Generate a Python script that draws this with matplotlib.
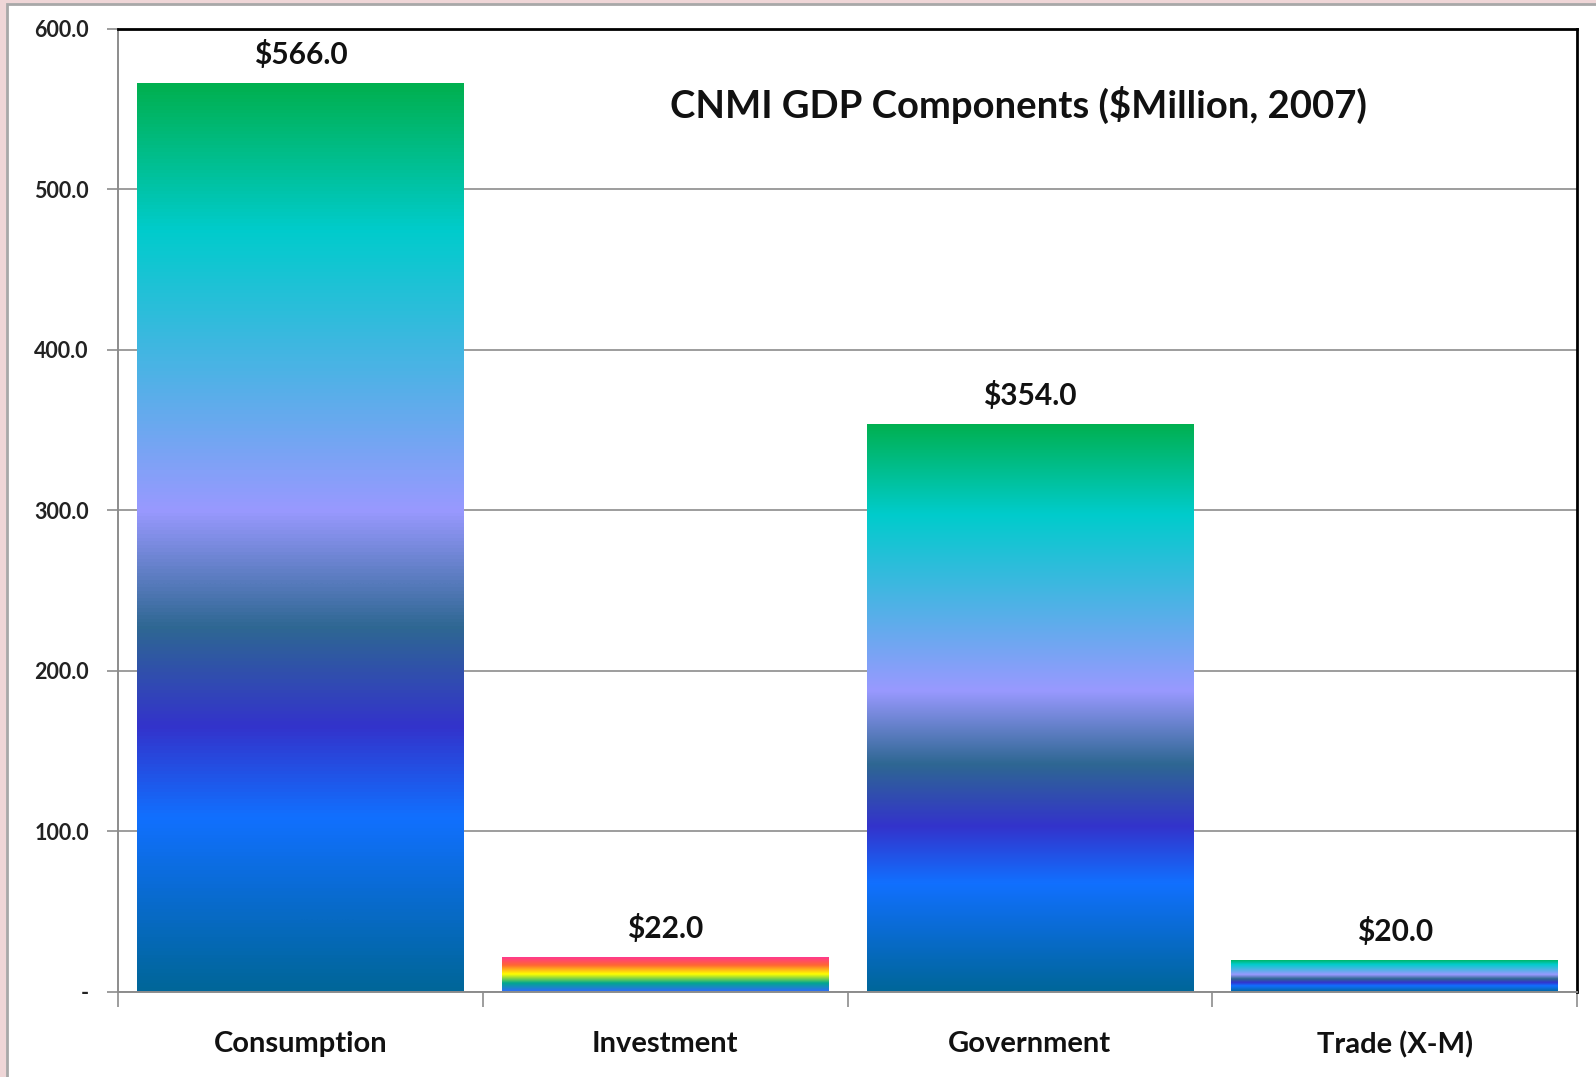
import matplotlib
matplotlib.use('Agg')
import matplotlib.pyplot as plt
import numpy as np
from matplotlib.colors import LinearSegmentedColormap, to_rgb
from matplotlib.patches import Rectangle
from matplotlib.ticker import FuncFormatter, FixedLocator

categories = ['Consumption', 'Investment', 'Government', 'Trade (X-M)']
values = [566.0, 22.0, 354.0, 20.0]
value_labels = ['$566.0', '$22.0', '$354.0', '$20.0']
title = 'CNMI GDP Components ($Million, 2007)'

# gradient stops, bottom (0) to top (1)
peacock = [(0.0, '#006699'), (0.19, '#1170FF'), (0.29, '#3333CC'), (0.40, '#2E6792'),
           (0.53, '#9999FF'), (0.84, '#00CCCC'), (1.0, '#00B050')]
rainbow = [(0.0, '#3366FF'), (0.25, '#01A78F'), (0.5, '#FFFF00'), (0.75, '#FF6633'), (1.0, '#FF3399')]
bar_grads = [peacock, rainbow, peacock, peacock]

plt.rcParams['font.family'] = ['Lato', 'DejaVu Sans']

fig = plt.figure(figsize=(15.96, 10.77), dpi=100)
fig.patch.set_facecolor('#EFD6D7')
W, H = 1596.0, 1077.0
# white panel with gray edge on left/top
fig.patches.append(Rectangle((7 / W, -0.01), 1.02, 1 - 4 / H + 0.01, transform=fig.transFigure,
                             facecolor='white', edgecolor='#A8A8A8', linewidth=2, zorder=-10))

ax = fig.add_axes([118 / W, 1 - 992 / H, (1577 - 118) / W, (992 - 28.7) / H])
ax.set_facecolor('none')

x = np.arange(len(categories))
width = 0.895
bars = ax.bar(x, values, width=width, color='none', edgecolor='none', zorder=2)

for b, grad in zip(bars, bar_grads):
    cmap = LinearSegmentedColormap.from_list('g', [(p, to_rgb(c)) for p, c in grad])
    img = np.linspace(0, 1, 256).reshape(-1, 1)
    x0 = b.get_x()
    im = ax.imshow(img, extent=(x0, x0 + b.get_width(), 0, b.get_height()), origin='lower',
                   cmap=cmap, aspect='auto', interpolation='bilinear', zorder=2)
    im.set_clip_path(b)

for xi, v, lab in zip(x, values, value_labels):
    ax.annotate(lab, (xi, v), xytext=(0, 10), textcoords='offset points', ha='center',
                va='bottom', fontsize=21.5, fontweight='bold', color='#111111')

ax.set_xlim(-0.5, 3.5)
ax.set_ylim(0, 600)

ax.yaxis.set_major_locator(FixedLocator([0, 100, 200, 300, 400, 500, 600]))
ax.yaxis.set_major_formatter(FuncFormatter(lambda v, p: '-' if v == 0 else '%.1f' % v))
ax.grid(axis='y', color='#8C8C8C', linewidth=1.2, zorder=1)
ax.set_axisbelow(True)

ax.set_xticks(x)
ax.set_xticklabels(categories, fontsize=21, fontweight='bold', color='#111111')
ax.tick_params(axis='x', length=0, pad=28)
ax.set_xticks([-0.5, 0.5, 1.5, 2.5, 3.5], minor=True)
ax.tick_params(axis='x', which='minor', length=11, color='#8C8C8C', width=1.2)
ax.tick_params(axis='y', length=8, color='#8C8C8C', width=1.2, labelsize=15.5, pad=13)
for t in ax.get_yticklabels():
    t.set_fontweight('bold')
    t.set_color('#222222')

ax.spines['left'].set_color('#8C8C8C')
ax.spines['left'].set_linewidth(1.4)
ax.spines['bottom'].set_color('#8C8C8C')
ax.spines['bottom'].set_linewidth(1.4)
ax.spines['top'].set_color('black')
ax.spines['top'].set_linewidth(2)
ax.spines['right'].set_color('black')
ax.spines['right'].set_linewidth(2)

fig.text(1018 / W, 1 - 105 / H, title, ha='center', va='center', fontsize=27.5,
         fontweight='bold', color='#111111')

fig.savefig('out.png', dpi=100, facecolor=fig.get_facecolor())
